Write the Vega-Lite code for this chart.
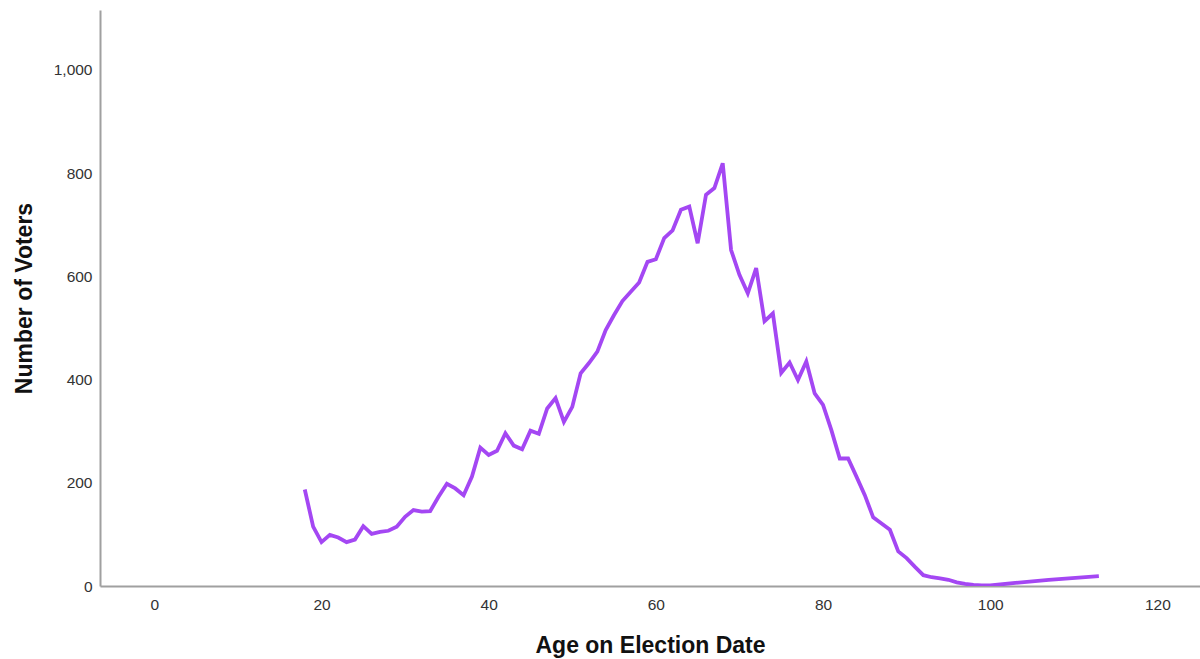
{
  "$schema": "https://vega.github.io/schema/vega-lite/v6.json",
  "width": 1100,
  "height": 576,
  "autosize": {"type": "none"},
  "padding": {"left": 100, "top": 10, "right": 0, "bottom": 73},
  "background": "white",
  "config": {
    "view": {"stroke": null},
    "font": "Liberation Sans",
    "axis": {
      "grid": false,
      "ticks": false,
      "domainColor": "#a0a0a0",
      "domainWidth": 2,
      "labelFont": "Liberation Sans",
      "labelFontSize": 15.5,
      "labelColor": "#333333",
      "titleFont": "Liberation Sans",
      "titleFontSize": 23,
      "titleFontWeight": "bold",
      "titleColor": "#111111"
    }
  },
  "data": {
    "values": [
      {"age": 18, "voters": 187}, {"age": 19, "voters": 115}, {"age": 20, "voters": 85},
      {"age": 21, "voters": 99}, {"age": 22, "voters": 94}, {"age": 23, "voters": 85},
      {"age": 24, "voters": 90}, {"age": 25, "voters": 116}, {"age": 26, "voters": 101},
      {"age": 27, "voters": 105}, {"age": 28, "voters": 107}, {"age": 29, "voters": 115},
      {"age": 30, "voters": 134}, {"age": 31, "voters": 147}, {"age": 32, "voters": 144},
      {"age": 33, "voters": 145}, {"age": 34, "voters": 173}, {"age": 35, "voters": 198},
      {"age": 36, "voters": 189}, {"age": 37, "voters": 176}, {"age": 38, "voters": 212},
      {"age": 39, "voters": 268}, {"age": 40, "voters": 254}, {"age": 41, "voters": 262},
      {"age": 42, "voters": 296}, {"age": 43, "voters": 272}, {"age": 44, "voters": 265},
      {"age": 45, "voters": 301}, {"age": 46, "voters": 295}, {"age": 47, "voters": 344},
      {"age": 48, "voters": 364}, {"age": 49, "voters": 318}, {"age": 50, "voters": 347},
      {"age": 51, "voters": 412}, {"age": 52, "voters": 432}, {"age": 53, "voters": 454},
      {"age": 54, "voters": 496}, {"age": 55, "voters": 525}, {"age": 56, "voters": 552},
      {"age": 57, "voters": 570}, {"age": 58, "voters": 588}, {"age": 59, "voters": 628},
      {"age": 60, "voters": 633}, {"age": 61, "voters": 674}, {"age": 62, "voters": 689},
      {"age": 63, "voters": 729}, {"age": 64, "voters": 735}, {"age": 65, "voters": 664},
      {"age": 66, "voters": 758}, {"age": 67, "voters": 771}, {"age": 68, "voters": 819},
      {"age": 69, "voters": 651}, {"age": 70, "voters": 603}, {"age": 71, "voters": 567},
      {"age": 72, "voters": 616}, {"age": 73, "voters": 513}, {"age": 74, "voters": 528},
      {"age": 75, "voters": 413}, {"age": 76, "voters": 433}, {"age": 77, "voters": 399},
      {"age": 78, "voters": 435}, {"age": 79, "voters": 373}, {"age": 80, "voters": 351},
      {"age": 81, "voters": 302}, {"age": 82, "voters": 247}, {"age": 83, "voters": 247},
      {"age": 84, "voters": 212}, {"age": 85, "voters": 176}, {"age": 86, "voters": 133},
      {"age": 87, "voters": 121}, {"age": 88, "voters": 109}, {"age": 89, "voters": 67},
      {"age": 90, "voters": 54}, {"age": 91, "voters": 37}, {"age": 92, "voters": 21},
      {"age": 93, "voters": 17}, {"age": 94, "voters": 15}, {"age": 95, "voters": 12},
      {"age": 96, "voters": 7}, {"age": 97, "voters": 4}, {"age": 98, "voters": 2},
      {"age": 99, "voters": 1}, {"age": 100, "voters": 1}, {"age": 103, "voters": 6},
      {"age": 107, "voters": 12}, {"age": 113, "voters": 19}
    ]
  },
  "mark": {"type": "line", "color": "#a447f3", "strokeWidth": 3.8, "strokeJoin": "miter", "clip": true},
  "encoding": {
    "x": {
      "field": "age",
      "type": "quantitative",
      "title": "Age on Election Date",
      "scale": {"domain": [-6.5, 125.1], "nice": false, "zero": false},
      "axis": {"values": [0, 20, 40, 60, 80, 100, 120], "labelPadding": 11, "titlePadding": 22, "format": "d"}
    },
    "y": {
      "field": "voters",
      "type": "quantitative",
      "title": "Number of Voters",
      "scale": {"domain": [0, 1116], "nice": false},
      "axis": {"values": [0, 200, 400, 600, 800, 1000], "labelPadding": 8, "titlePadding": 17, "format": ",d"}
    }
  }
}
